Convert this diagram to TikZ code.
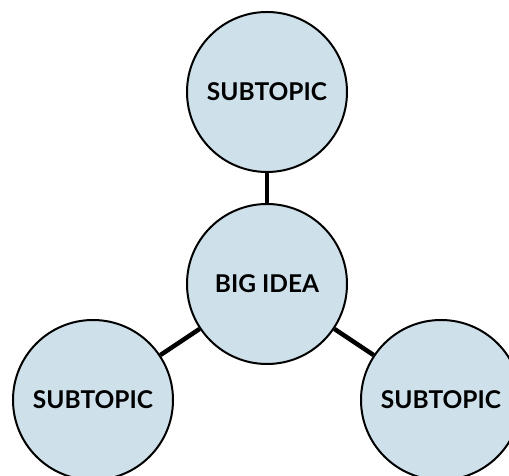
\documentclass[tikz,border=0pt]{standalone}
\usepackage{fontspec}
\setmainfont{Lato}
\definecolor{bubble}{RGB}{206,224,234}
\begin{document}
\begin{tikzpicture}[x=1pt,y=1pt,
  bubble/.style={circle,draw=black,line width=2pt,fill=bubble,minimum size=160pt,inner sep=0pt,font=\fontsize{24.5}{28}\selectfont\bfseries},
  link/.style={line width=4.5pt}]
\useasboundingbox (0,0) rectangle (509,476);
\node[bubble] (top) at (267,384) {SUBTOPIC};
\node[bubble] (mid) at (267,192) {BIG IDEA};
\node[bubble] (bl) at (93,76) {SUBTOPIC};
\node[bubble] (br) at (441,76) {SUBTOPIC};
\draw[link] (top) -- (mid);
\draw[link] (mid) -- (bl);
\draw[link] (mid) -- (br);
\end{tikzpicture}
\end{document}
